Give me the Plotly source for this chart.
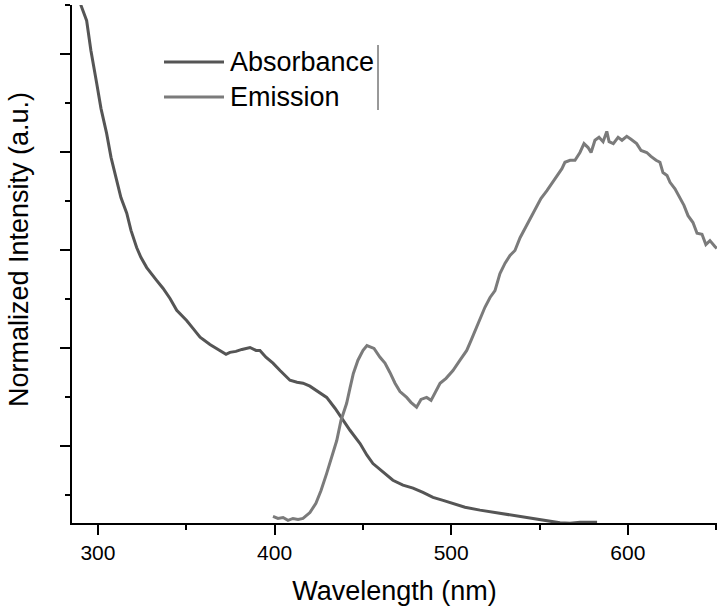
import plotly.graph_objects as go

# Absorbance spectrum (wavelength nm, normalized intensity)
abs_wl = [289.5, 290.4, 293.6, 296.0, 299.3, 301.7, 304.9, 307.4, 310.6, 313.0, 316.3, 318.7,
          321.9, 324.3, 327.6, 330.0, 333.2, 336.8, 340.8, 344.6, 350.2, 353.8, 357.8,
          363.4, 369.1, 372.5, 374.7, 378.1, 381.5, 386.1, 389.5, 391.7, 395.1, 399.1,
          403.1, 408.7, 412.7, 416.1, 420.0, 423.8, 429.5, 434.2, 438.7, 442.7, 448.4,
          452.3, 455.7, 461.4, 467.0, 472.7, 478.4, 484.0, 489.7, 495.4, 501.0, 507.8,
          516.3, 524.8, 533.3, 541.8, 550.3, 556.0, 561.6, 567.3, 573.0, 578.6, 582.6]
abs_val = [1.12, 1.099, 1.068, 1.007, 0.940, 0.889, 0.838, 0.789, 0.742, 0.707, 0.675, 0.640,
           0.605, 0.585, 0.564, 0.552, 0.538, 0.522, 0.501, 0.477, 0.456, 0.440, 0.422,
           0.407, 0.395, 0.387, 0.391, 0.393, 0.397, 0.401, 0.395, 0.395, 0.381, 0.369,
           0.354, 0.334, 0.330, 0.328, 0.322, 0.313, 0.299, 0.277, 0.252, 0.232, 0.205,
           0.181, 0.164, 0.146, 0.130, 0.120, 0.114, 0.105, 0.095, 0.089, 0.083, 0.075,
           0.069, 0.064, 0.060, 0.054, 0.050, 0.046, 0.043, 0.042, 0.044, 0.044, 0.044]

# Emission spectrum (wavelength nm, normalized intensity)
em_wl = [399.1, 401.9, 404.8, 407.6, 410.4, 413.3, 416.1, 420.0, 423.4, 426.3, 429.5, 432.0,
         435.2, 437.6, 440.8, 442.7, 444.6, 447.2, 450.1, 452.3, 454.0, 456.3, 459.7, 462.5,
         465.3, 468.2, 471.0, 474.8, 477.2, 480.4, 482.9, 486.1, 488.6, 491.4, 493.7, 497.1,
         501.0, 505.0, 508.8, 511.2, 513.5, 516.3, 519.1, 522.0, 524.8, 527.6, 530.5, 533.3,
         536.1, 539.0, 541.8, 544.6, 548.4, 550.8, 554.2, 557.1, 559.7, 562.7, 564.4, 567.3,
         570.1, 572.9, 575.2, 577.5, 579.2, 581.4, 583.7, 586.0, 588.1, 589.4, 591.8, 594.5,
         596.7, 599.4, 601.8, 605.0, 607.5, 610.7, 613.1, 616.0, 618.2, 619.9, 622.2, 623.9,
         626.7, 629.6, 631.8, 634.1, 636.9, 639.2, 642.0, 644.2, 646.5, 649.3, 650.4]
em_val = [0.056, 0.052, 0.054, 0.048, 0.052, 0.050, 0.052, 0.064, 0.083, 0.109, 0.144, 0.175,
          0.211, 0.252, 0.287, 0.318, 0.348, 0.375, 0.395, 0.405, 0.403, 0.399, 0.381, 0.369,
          0.350, 0.328, 0.311, 0.299, 0.289, 0.279, 0.295, 0.299, 0.293, 0.313, 0.328, 0.338,
          0.354, 0.375, 0.395, 0.415, 0.436, 0.460, 0.483, 0.503, 0.517, 0.552, 0.573, 0.589,
          0.599, 0.625, 0.644, 0.664, 0.687, 0.705, 0.721, 0.736, 0.748, 0.766, 0.779, 0.783,
          0.783, 0.799, 0.817, 0.809, 0.799, 0.824, 0.830, 0.821, 0.842, 0.821, 0.817, 0.830,
          0.824, 0.832, 0.826, 0.817, 0.803, 0.799, 0.791, 0.783, 0.779, 0.758, 0.752, 0.738,
          0.725, 0.707, 0.691, 0.670, 0.656, 0.634, 0.632, 0.611, 0.619, 0.607, 0.603]

series_names = ["Absorbance", "Emission"]
series_colors = ["#555555", "#7b7b7b"]
x_tick_vals = [300, 400, 500, 600]
x_tick_text = ["300", "400", "500", "600"]

FONT = "Liberation Sans, Arial, sans-serif"

fig = go.Figure()
fig.add_trace(go.Scatter(x=abs_wl, y=abs_val, mode="lines", name=series_names[0],
                         line=dict(color=series_colors[0], width=3), showlegend=False))
fig.add_trace(go.Scatter(x=em_wl, y=em_val, mode="lines", name=series_names[1],
                         line=dict(color=series_colors[1], width=3), showlegend=False))

# custom legend
legend_y = [(523 - 62) / 518, (523 - 97) / 518]
for i, name in enumerate(series_names):
    fig.add_shape(type="line", xref="paper", yref="paper",
                  x0=(164 - 72) / 645, x1=(224 - 72) / 645, y0=legend_y[i], y1=legend_y[i],
                  line=dict(color=series_colors[i], width=3))
    fig.add_annotation(xref="paper", yref="paper", x=(228 - 72) / 645, y=legend_y[i],
                       text=name, showarrow=False, xanchor="left", yanchor="middle",
                       font=dict(family=FONT, size=27, color="black"))
fig.add_shape(type="line", xref="paper", yref="paper",
              x0=(378 - 72) / 645, x1=(378 - 72) / 645, y0=(523 - 45) / 518, y1=(523 - 110) / 518,
              line=dict(color="#333333", width=1))

# y-axis title
fig.add_annotation(xref="paper", yref="paper", x=(19 - 72) / 645, y=(523 - 250) / 518,
                   text="Normalized Intensity (a.u.)", textangle=-90, showarrow=False,
                   xanchor="center", yanchor="middle",
                   font=dict(family=FONT, size=27, color="black"))

fig.update_layout(
    width=722, height=611,
    margin=dict(l=72, r=5, t=5, b=88),
    paper_bgcolor="white", plot_bgcolor="white",
    font=dict(family=FONT, color="black"),
    xaxis=dict(range=[285.3, 650.5], tickvals=x_tick_vals, ticktext=x_tick_text,
               automargin=False,
               ticks="outside", ticklen=10, tickwidth=2, tickcolor="black",
               showline=True, linecolor="black", linewidth=2, mirror=False,
               showgrid=False, zeroline=False,
               tickfont=dict(size=21, family=FONT),
               minor=dict(tickvals=[350, 450, 550, 650], ticks="outside", ticklen=5,
                          tickwidth=2, tickcolor="black", showgrid=False),
               title=dict(text="Wavelength (nm)", font=dict(size=27, family=FONT), standoff=18)),
    yaxis=dict(range=[0.0427, 1.1], tick0=0, dtick=0.2, showticklabels=False,
               automargin=False,
               ticks="outside", ticklen=10, tickwidth=2, tickcolor="black",
               showline=True, linecolor="black", linewidth=2,
               showgrid=False, zeroline=False,
               minor=dict(tick0=0.1, dtick=0.2, ticks="outside", ticklen=5, tickwidth=2,
                          tickcolor="black", showgrid=False)),
)

fig.write_html("out.html", config={"displayModeBar": False},
               post_script="document.body.style.margin='0px';document.body.style.overflow='hidden';")
